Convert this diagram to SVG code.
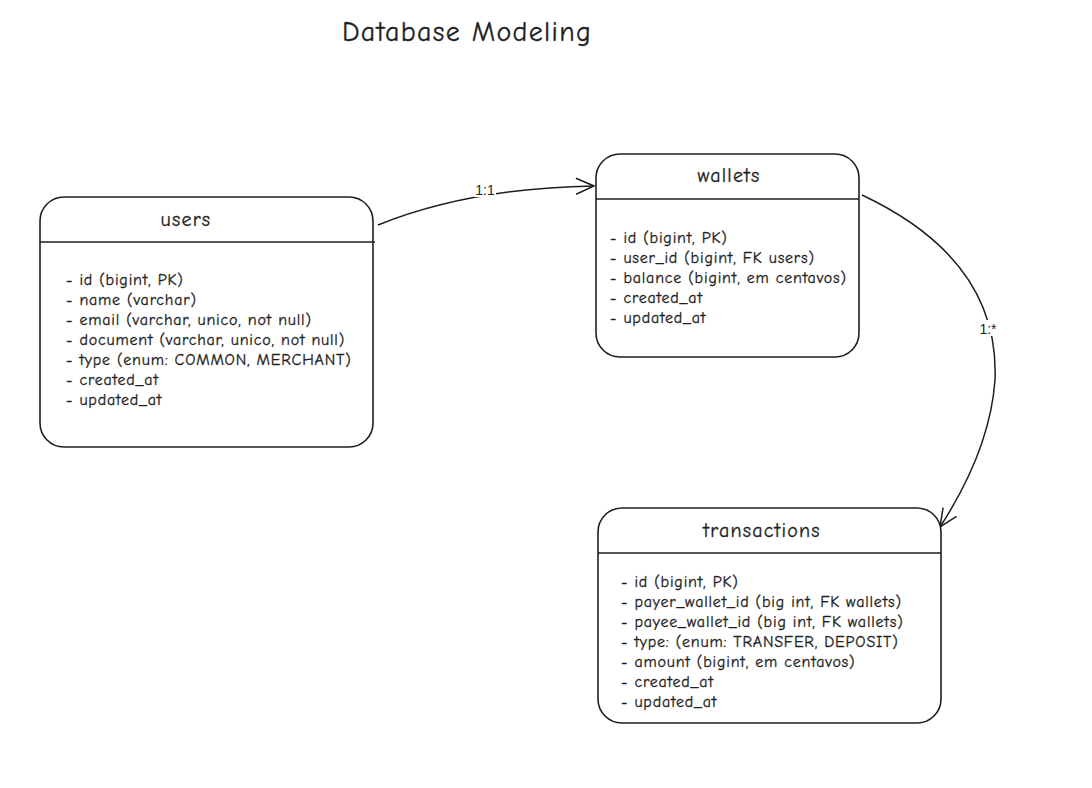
<svg xmlns="http://www.w3.org/2000/svg" width="1092" height="788" viewBox="0 0 1092 788">
<style>
.box{fill:#ffffff;stroke:#1e1e1e;stroke-width:1.6}
.div{stroke:#1e1e1e;stroke-width:1.4}
.ttl{font-family:"Comic Neue","Liberation Sans",sans-serif;font-size:20px;letter-spacing:1.2px;fill:#1e1e1e;stroke:#1e1e1e;stroke-width:0.3;text-anchor:middle}
.fld{font-family:"Comic Neue","Liberation Sans",sans-serif;font-size:16px;letter-spacing:0.8px;fill:#1e1e1e;stroke:#1e1e1e;stroke-width:0.3}
.edge{fill:none;stroke:#1e1e1e;stroke-width:1.5}
.lbl{font-family:"Liberation Sans",sans-serif;font-size:14px;fill:#1e1e1e;text-anchor:middle}
.head{font-family:"Comic Neue","Liberation Sans",sans-serif;font-size:28px;letter-spacing:1.3px;fill:#1e1e1e;stroke:#1e1e1e;stroke-width:0.3;text-anchor:middle}
</style>
<defs>
<marker id="arr" viewBox="0 0 20 20" refX="19" refY="10" markerWidth="20" markerHeight="20" markerUnits="userSpaceOnUse" orient="auto">
<path d="M1,2 L19,10 L1,18" fill="none" stroke="#1e1e1e" stroke-width="1.5"/>
</marker>
</defs>
<rect width="1092" height="788" fill="#ffffff"/>
<text class="head" x="467" y="41">Database Modeling</text>

<g id="connectors">
<path class="edge" d="M378,225 Q470,188 594,186" marker-end="url(#arr)"/>
<rect x="474" y="181" width="22" height="16" fill="#ffffff"/>
<text class="lbl" x="485" y="195">1:1</text>
<path class="edge" d="M862,195 Q1000,260 995,380 Q990,450 940,527" marker-end="url(#arr)"/>
<rect x="977" y="320" width="22" height="16" fill="#ffffff"/>
<text class="lbl" x="988" y="334">1:*</text>
</g>

<g id="users">
<rect class="box" x="40" y="197" width="333" height="250" rx="24"/>
<line class="div" x1="40" y1="242" x2="375" y2="242"/>
<text class="ttl" x="186" y="226">users</text>
<text class="fld" x="66" y="285">- id (bigint, PK)</text>
<text class="fld" x="66" y="305">- name (varchar)</text>
<text class="fld" x="66" y="325">- email (varchar, unico, not null)</text>
<text class="fld" x="66" y="345">- document (varchar, unico, not null)</text>
<text class="fld" x="66" y="365">- type (enum: COMMON, MERCHANT)</text>
<text class="fld" x="66" y="385">- created_at</text>
<text class="fld" x="66" y="405">- updated_at</text>
</g>

<g id="wallets">
<rect class="box" x="596" y="154" width="263" height="203" rx="24"/>
<line class="div" x1="596" y1="199" x2="859" y2="199"/>
<text class="ttl" x="729" y="182">wallets</text>
<text class="fld" x="610" y="243">- id (bigint, PK)</text>
<text class="fld" x="610" y="263">- user_id (bigint, FK users)</text>
<text class="fld" x="610" y="283">- balance (bigint, em centavos)</text>
<text class="fld" x="610" y="303">- created_at</text>
<text class="fld" x="610" y="323">- updated_at</text>
</g>

<g id="transactions">
<rect class="box" x="598" y="508" width="343" height="215" rx="24"/>
<line class="div" x1="598" y1="553" x2="941" y2="553"/>
<text class="ttl" x="762" y="537">transactions</text>
<text class="fld" x="621" y="587">- id (bigint, PK)</text>
<text class="fld" x="621" y="607">- payer_wallet_id (big int, FK wallets)</text>
<text class="fld" x="621" y="627">- payee_wallet_id (big int, FK wallets)</text>
<text class="fld" x="621" y="647">- type: (enum: TRANSFER, DEPOSIT)</text>
<text class="fld" x="621" y="667">- amount (bigint, em centavos)</text>
<text class="fld" x="621" y="687">- created_at</text>
<text class="fld" x="621" y="707">- updated_at</text>
</g>
</svg>
